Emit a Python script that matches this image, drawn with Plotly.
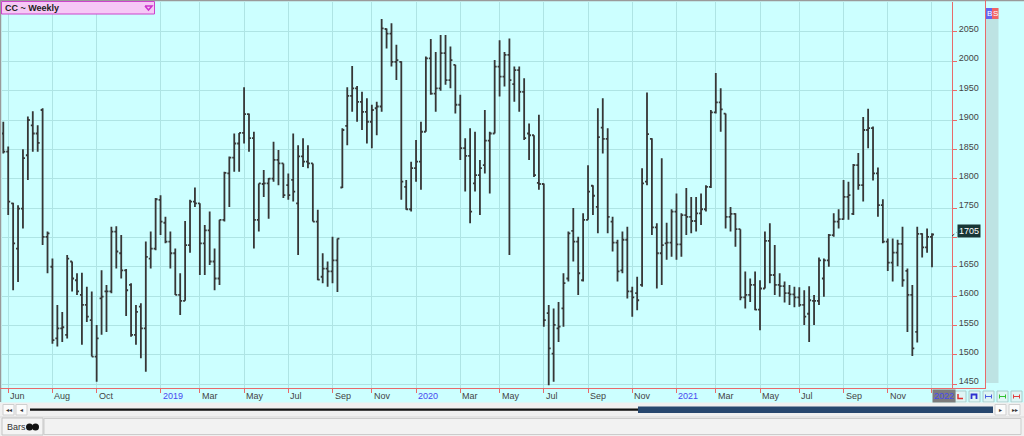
import pandas as pd
import plotly.graph_objects as go

# ---------------- data (weekly OHLC) ----------------
first_week = "2018-05-25"
n_weeks = 190
week_dates = pd.date_range(first_week, periods=n_weeks, freq="7D")

open_ = [1877,1846,1758,1681,1749,1840,1891,1877,1917,1701,1650,1528,1545,1534,1659,1627,1602,1585,1559,1497,
         1596,1608,1608,1710,1673,1644,1619,1534,1582,1545,1664,1681,1764,1725,1693,1673,1602,1592,1687,1761,
         1758,1690,1712,1659,1630,1730,1809,1836,1860,1878,1910,1869,1730,1791,1792,1800,1832,1826,1789,1798,
         1758,1838,1829,1826,1727,1633,1647,1642,1661,1785,1890,1941,1954,1931,1914,1897,1920,1923,2055,2047,
         1999,1999,1786,1748,1818,1829,1880,2005,1945,1954,2014,1968,1994,1926,1852,1839,1792,1806,1823,1865,
         1877,1991,1974,2011,1961,1985,1948,1877,1874,1793,1791,1571,1502,1545,1579,1630,1711,1693,1627,1730,
         1788,1752,1887,1868,1727,1691,1644,1696,1608,1605,1619,1795,1868,1717,1673,1690,1691,1744,1688,1738,
         1735,1728,1741,1748,1786,1913,1930,1911,1735,1740,1714,1598,1602,1619,1577,1613,1694,1636,1619,1617,
         1605,1603,1598,1585,1570,1592,1592,1630,1661,1704,1727,1731,1769,1740,1823,1789,1883,1886,1809,1755,
         1693,1657,1674,1689,1643,1602,1539,1706,1683,1701]
high = [1897,1855,1759,1755,1850,1906,1915,1891,1920,1710,1664,1585,1573,1670,1659,1639,1640,1616,1608,1551,
        1644,1619,1718,1719,1704,1646,1622,1585,1588,1693,1710,1767,1772,1735,1710,1681,1639,1728,1764,1785,
        1758,1721,1744,1681,1730,1812,1838,1877,1878,1956,1911,1880,1792,1815,1801,1863,1849,1826,1809,1877,
        1857,1869,1857,1826,1747,1673,1659,1701,1698,1886,1956,1992,1958,1948,1937,1926,1931,2072,2056,2065,
        2028,2000,1798,1829,1866,1897,2008,2038,2016,2045,2045,2025,1994,1943,1869,1886,1880,1832,1917,1880,
        2002,2036,2016,2039,1991,1991,1971,1894,1874,1909,1792,1585,1579,1590,1639,1710,1750,1701,1741,1823,
        1789,1920,1937,1886,1735,1696,1710,1718,1616,1633,1818,1947,1869,1724,1835,1725,1748,1775,1741,1784,
        1769,1769,1775,1789,1917,1980,1954,1911,1752,1741,1714,1642,1630,1642,1627,1710,1724,1687,1639,1625,
        1619,1616,1615,1610,1617,1602,1666,1664,1706,1741,1748,1798,1795,1825,1844,1905,1919,1889,1819,1765,
        1698,1698,1696,1718,1647,1619,1718,1707,1715,1707]
low = [1843,1738,1610,1624,1715,1798,1846,1846,1687,1639,1519,1514,1522,1528,1608,1602,1517,1556,1497,1454,
       1534,1539,1605,1647,1630,1566,1531,1517,1494,1471,1647,1678,1704,1690,1647,1602,1568,1592,1674,1752,
       1636,1636,1653,1610,1619,1727,1752,1812,1812,1860,1846,1681,1710,1769,1732,1795,1789,1767,1764,1761,
       1670,1820,1818,1727,1627,1622,1616,1622,1607,1784,1857,1914,1897,1883,1860,1852,1874,1914,2022,1991,
       1968,1764,1747,1744,1795,1781,1880,1943,1914,1950,1960,1954,1911,1832,1778,1724,1778,1738,1809,1775,
       1877,1940,1957,1670,1931,1914,1866,1832,1803,1781,1548,1448,1454,1522,1548,1625,1659,1602,1625,1730,
       1738,1707,1843,1707,1676,1625,1639,1596,1565,1576,1616,1789,1704,1613,1619,1662,1667,1662,1667,1704,
       1707,1710,1721,1744,1784,1911,1880,1715,1710,1684,1593,1579,1590,1576,1542,1613,1622,1602,1599,1589,
       1585,1581,1582,1551,1522,1551,1585,1599,1650,1701,1715,1730,1730,1738,1781,1761,1852,1797,1735,1690,
       1643,1625,1651,1616,1539,1498,1521,1666,1674,1649]
close = [1846,1761,1690,1749,1835,1900,1877,1861,1701,1707,1525,1545,1547,1664,1630,1608,1585,1565,1497,1528,
         1599,1608,1710,1676,1644,1610,1534,1573,1545,1667,1681,1765,1727,1693,1673,1602,1592,1687,1761,1758,
         1690,1712,1659,1630,1730,1810,1836,1860,1878,1910,1869,1730,1792,1792,1800,1832,1826,1772,1772,1778,
         1838,1829,1826,1727,1628,1647,1642,1661,1698,1883,1941,1954,1931,1914,1897,1917,1923,2056,2047,1999,
         2002,1795,1748,1818,1829,1880,2005,1945,1954,2014,1968,2002,1926,1852,1839,1744,1806,1818,1865,1877,
         1991,1974,2011,1968,1985,1948,1869,1874,1806,1791,1559,1511,1551,1548,1622,1707,1693,1639,1730,1778,
         1771,1871,1868,1735,1691,1642,1696,1608,1598,1593,1792,1876,1717,1673,1687,1691,1744,1688,1738,1735,
         1728,1741,1748,1786,1913,1930,1918,1735,1740,1714,1598,1602,1619,1577,1613,1694,1636,1619,1617,1605,
         1603,1598,1585,1565,1593,1592,1661,1661,1704,1727,1731,1769,1772,1823,1789,1883,1886,1809,1755,1693,
         1657,1674,1689,1627,1602,1511,1706,1683,1701,1705]

tick_dates = ["2018-06-01","2018-08-03","2018-10-05","2019-01-04","2019-03-01","2019-05-03","2019-07-05",
              "2019-09-06","2019-11-01","2020-01-03","2020-03-06","2020-05-01","2020-07-03","2020-09-04",
              "2020-11-06","2021-01-08","2021-03-05","2021-05-07","2021-07-02","2021-09-03","2021-11-05",
              "2022-01-07"]
tick_labels = ["Jun","Aug","Oct","2019","Mar","May","Jul","Sep","Nov","2020","Mar","May","Jul","Sep","Nov",
               "2021","Mar","May","Jul","Sep","Nov","2022"]
price_ticks = [1450,1500,1550,1600,1650,1700,1750,1800,1850,1900,1950,2000,2050]
# the 1700 label is hidden behind the last-price box in the picture
price_labels = ["" if abs(p - close[-1]) < 25 else str(p) for p in price_ticks]

# ---------------- styling ----------------
BG = "#ccffff"
GRID = "#aee4e4"
RED = "#e86a6a"
FONT = "Liberation Sans"
FS = 9

W, H = 1024, 436
L_PX, R_PX, T_PX, B_PX = 2, 952, 2, 388


def PX(px):
    return (px - L_PX) / (R_PX - L_PX)


def PY(py):
    return (B_PX - py) / (B_PX - T_PX)


fig = go.Figure()
fig.add_trace(go.Ohlc(
    x=week_dates, open=open_, high=high, low=low, close=close,
    increasing=dict(line=dict(color="#363636", width=1.8)),
    decreasing=dict(line=dict(color="#363636", width=1.8)),
    tickwidth=0.4, hoverinfo="skip", showlegend=False,
))

shapes = []
annotations = []


def rect(x0, y0, x1, y1, fill, line=None, lw=1):
    shapes.append(dict(type="rect", xref="paper", yref="paper",
                       x0=PX(x0), x1=PX(x1), y0=PY(y0), y1=PY(y1),
                       fillcolor=fill, line=dict(color=line or fill, width=lw if line else 0),
                       layer="above"))


def seg(x0, y0, x1, y1, color, w=1, dash="solid"):
    shapes.append(dict(type="line", xref="paper", yref="paper",
                       x0=PX(x0), x1=PX(x1), y0=PY(y0), y1=PY(y1),
                       line=dict(color=color, width=w, dash=dash), layer="above"))


def path(pts, color, w=1):
    d = "M " + " L ".join(f"{PX(a)},{PY(b)}" for a, b in pts)
    shapes.append(dict(type="path", xref="paper", yref="paper", path=d,
                       line=dict(color=color, width=w), layer="above"))


def text(x, y, s, size=FS, color="#333", xanchor="left", **kw):
    annotations.append(dict(xref="paper", yref="paper", x=PX(x), y=PY(y), text=s,
                            showarrow=False, xanchor=xanchor, yanchor="middle",
                            font=dict(family=FONT, size=size, color=color), **kw))


# borders / axis frame
seg(0, 0.5, W, 0.5, "#9a9a9a", 1.5)
seg(0.5, 0, 0.5, 402, "#9a9a9a", 1.5)
seg(0, 388.5, 985, 388.5, RED, 1)
seg(985.5, 0, 985.5, 389, RED, 1)

# right gray column with B/S badges
rect(986, 8, 998.5, 383, "#bde3e3")
rect(986, 8, 992, 19, "#6464f0")
rect(992, 8, 998.5, 19, "#f06464")
text(989, 13.5, "B", size=8, color="white", xanchor="center")
text(995.3, 13.5, "S", size=8, color="white", xanchor="center")

# title box
rect(1.5, 1.5, 154.5, 14, "#f6c8f6", "#cc44cc", 1)
text(3, 8, "<b>CC ~ Weekly</b>", size=FS, color="#222")
path([(145, 6), (152, 6), (148.5, 10), (145, 6)], "#cc33cc", 1.5)

# x-axis labels
for d, lab in zip(tick_dates, tick_labels):
    is_year = lab.isdigit()
    annotations.append(dict(
        xref="x", yref="paper", x=d, y=PY(395.5), text=lab, showarrow=False,
        xanchor="left", yanchor="middle", xshift=0,
        font=dict(family=FONT, size=FS, color="#4848f0" if is_year else "#444"),
        bgcolor="#7c7c7c" if lab == tick_labels[-1] else None, borderpad=1,
    ))

# last price label
seg(952, 236, 957, 232, "#333", 1, "dot")
annotations.append(dict(xref="paper", yref="y", x=PX(957), y=close[-1], yshift=3,
                        text=str(close[-1]), showarrow=False, xanchor="left", yanchor="middle",
                        font=dict(family=FONT, size=FS, color="white"), bgcolor="#173636",
                        borderpad=1))

# small buttons right of the x-axis labels
btn_x = [955, 969, 983, 997, 1011]
for i, bx in enumerate(btn_x):
    rect(bx, 391, bx + 11, 402, "#dff5f5", "#a8cccc", 1)
path([(958, 394), (958, 398.5), (963, 398.5)], "#e03030", 1.5)
path([(971.5, 399), (971.5, 394.5), (976.5, 394.5), (976.5, 399)], "#3030d0", 1.8)
for bx, col in zip(btn_x[2:], ["#4a60e0", "#30c030", "#e04040"]):
    path([(bx + 2.5, 394.5), (bx + 2.5, 398.5)], col, 1)
    path([(bx + 2.5, 396.5), (bx + 8.5, 396.5)], col, 1)
    path([(bx + 8.5, 394.5), (bx + 8.5, 398.5)], col, 1)

# scroll bar row
rect(0, 402.5, W, 436, "#f0f0f0")
for bx in [3, 16, 995, 1009]:
    rect(bx, 404.5, bx + 11, 415, "#fbfbfb", "#cfcfcf", 1)
text(8.5, 410, "◂◂", size=6, color="#333", xanchor="center")
text(21.5, 410, "◂", size=6, color="#333", xanchor="center")
text(1000.5, 410, "▸", size=6, color="#333", xanchor="center")
text(1014.5, 410, "▸▸", size=6, color="#333", xanchor="center")
rect(30, 408.5, 640, 410.8, "#111111")
rect(638, 406.5, 993, 413, "#27476e")

# bottom tab row
seg(0, 417, W, 417, "#d8d8d8", 1)
rect(44, 418.5, 1021, 434.5, "#f2f2f2", "#cccccc", 1)
rect(2, 418, 43, 435, "#f4f4f4", "#c4c4c4", 1)
text(5, 427, "Bars", size=FS, color="#333")
shapes.append(dict(type="circle", xref="paper", yref="paper", x0=PX(26), x1=PX(33),
                   y0=PY(430.5), y1=PY(423.5), fillcolor="#111", line=dict(width=0)))
shapes.append(dict(type="circle", xref="paper", yref="paper", x0=PX(32), x1=PX(39),
                   y0=PY(430.5), y1=PY(423.5), fillcolor="#111", line=dict(width=0)))

fig.update_layout(
    width=W, height=H, autosize=False,
    margin=dict(l=L_PX, r=W - R_PX, t=T_PX, b=H - B_PX, pad=0),
    paper_bgcolor=BG, plot_bgcolor=BG,
    font=dict(family=FONT, size=FS, color="#333"),
    shapes=shapes, annotations=annotations, showlegend=False,
    xaxis=dict(type="date", range=["2018-05-23 03:36", "2022-02-04 12:00"],
               tickvals=tick_dates, ticktext=tick_labels, showticklabels=False,
               ticks="outside", ticklen=4, tickcolor=RED, tickwidth=1,
               showgrid=True, gridcolor=GRID, gridwidth=1, zeroline=False,
               showline=False, rangeslider=dict(visible=False), fixedrange=True),
    yaxis=dict(side="right", range=[1443.5, 2101], tickvals=price_ticks, ticktext=price_labels,
               ticks="outside", ticklen=4, tickcolor=RED, tickwidth=1,
               showgrid=True, gridcolor=GRID, gridwidth=1, zeroline=False,
               showline=True, linecolor=RED, linewidth=1,
               tickfont=dict(family=FONT, size=FS, color="#444"),
               ticklabelshift=-3, fixedrange=True),
)

fig.write_html("out.html", config={"displayModeBar": False, "staticPlot": True},
               post_script="document.body.style.margin='0';document.body.style.overflow='hidden';")
